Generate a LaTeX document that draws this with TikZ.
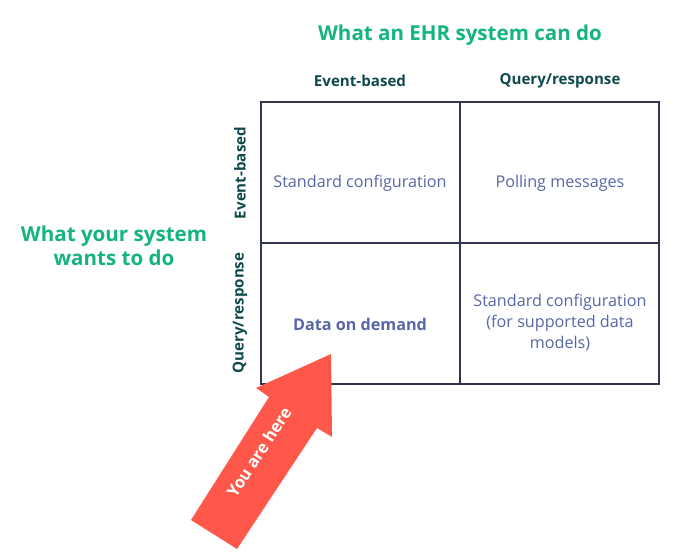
\documentclass[tikz,border=0pt]{standalone}
\usepackage{fontspec}
\setmainfont{Open Sans}
\usepackage{tikz}
\usetikzlibrary{calc}
\definecolor{ttlgreen}{HTML}{14B47F}
\definecolor{hdrteal}{HTML}{0E4A4C}
\definecolor{celltxt}{HTML}{5866A6}
\definecolor{gridline}{HTML}{33364F}
\definecolor{arrowred}{HTML}{FF584B}
\tikzset{
  hdr/.style={font=\fontsize{8.6}{10}\selectfont\bfseries, text=hdrteal},
  cell/.style={font=\fontsize{9.2}{12}\selectfont, text=celltxt, align=center},
}
\begin{document}
\begin{tikzpicture}[x=0.02cm,y=-0.02cm]
    \useasboundingbox (0,0) rectangle (700,560);
    %grid
    \draw[gridline, line width=0.6pt] (261,102) rectangle (659,384);
    \draw[gridline, line width=1.1pt] (460,102) -- (460,384);
    \draw[gridline, line width=1.1pt] (261,243) -- (659,243);

    %titles
    \node[font=\fontsize{11.7}{13.5}\selectfont\bfseries, text=ttlgreen] (top) at (460,35) {What an EHR system can do};
    \node[font=\fontsize{11.7}{13.5}\selectfont\bfseries, text=ttlgreen, align=center] (left) at (114,246) {What your system\\wants to do};

    %headers
    \node[hdr] (colev) at (360,81) {Event-based};
    \node[hdr] (colqr) at (560,81) {Query/response};
    \node[hdr, rotate=90] (rowev) at (240,173) {Event-based};
    \node[hdr, rotate=90] (rowqr) at (240,313) {Query/response};

    %cells
    \node[cell] (c11) at (360,183) {Standard configuration};
    \node[cell] (c12) at (560,183) {Polling messages};
    \node[cell, font=\fontsize{9.2}{12}\selectfont\bfseries] (c21) at (360,324) {Data on demand};
    \node[cell] (c22) at (560,323) {Standard configuration\\(for supported data\\models)};

    %arrow
    \fill[arrowred] (331,354) -- (332,437) -- (317,428) -- (237,549) -- (191,520)
        -- (269,397) -- (256,388) -- cycle;
    \node[font=\fontsize{9.4}{11}\selectfont\bfseries, text=white, rotate=57, inner sep=0pt] (here) at (259,452) {You are here};
\end{tikzpicture}
\end{document}
